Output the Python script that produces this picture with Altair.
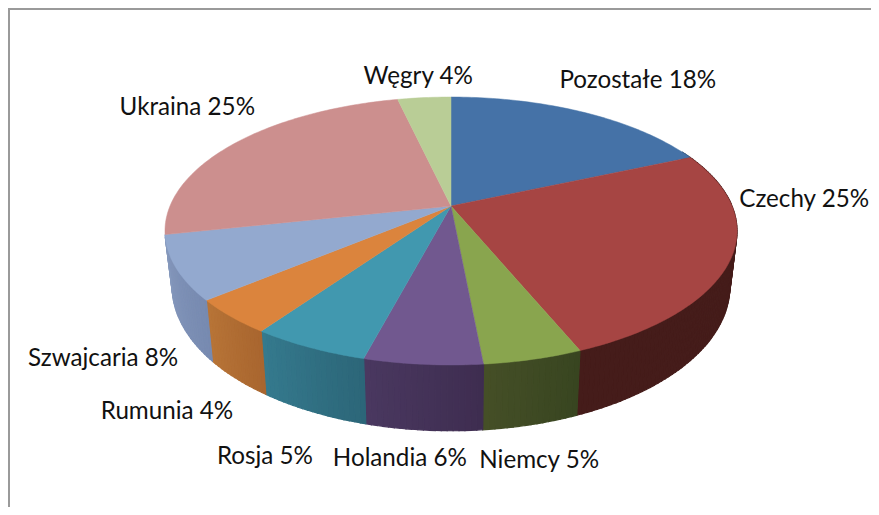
import math
import altair as alt

# values (percent of the whole, clockwise from 12 o'clock)
CATEGORIES = ["Pozostałe", "Czechy", "Niemcy", "Holandia", "Rosja", "Rumunia", "Szwajcaria", "Ukraina", "Węgry"]
VALUES = [18.4, 25.4, 4.7, 5.6, 5.6, 4.2, 7.7, 24.8, 3.6]
LABELS = ["Pozostałe 18%", "Czechy 25%", "Niemcy 5%", "Holandia 6%", "Rosja 5%",
          "Rumunia 4%", "Szwajcaria 8%", "Ukraina 25%", "Węgry 4%"]
TOP_COLORS = ["#4572a7", "#a64543", "#89a54e", "#71588f", "#4198af", "#db843d", "#93a9cf", "#cc8f8e", "#b9cd96"]
SIDE_START = ["#2a4463", "#451c1a", "#384520", "#3e2d50", "#2c6678", "#a8652f", "#778ab0", "#8a6160", "#7e8b66"]
SIDE_END = ["#2a4463", "#451c1a", "#454f27", "#4a3860", "#357a8e", "#b87537", "#8598bc", "#8a6160", "#7e8b66"]
LABEL_NUDGE = [(54, -31), (73, -58), (6, 102), (-23, 95), (-44, 110), (-64, 95), (-73, 91), (-48, -35), (-6, -21)]

W, H = 863, 499
CX, CY = 443.0, 198.0      # pivot of the pie in the plot area
RX, RY, P = 281.0, 129.3, 0.1866   # disc radii and perspective
DEPTH, SHRINK = 53.5, 0.975  # wall height and the narrowing of the lower rim


def top(a):
    u, v = math.sin(a), -math.cos(a)
    s = 1 / (1 - P * v)
    return CX + RX * u * s, CY + RY * v * s


def low(a):
    u, v = math.sin(a), -math.cos(a)
    s = 1 / (1 - P * v)
    return CX + SHRINK * RX * u * s, CY + RY * v * s + DEPTH * s


def mix(c0, c1, t):
    a = [int(c0[i:i + 2], 16) for i in (1, 3, 5)]
    b = [int(c1[i:i + 2], 16) for i in (1, 3, 5)]
    return "#" + "".join(f"{round(p + (q - p) * t):02x}" for p, q in zip(a, b))


def feature(coords, color, kind="Polygon"):
    geometry = {"type": kind, "coordinates": [coords] if kind == "Polygon" else coords}
    return {"type": "Feature", "geometry": geometry, "properties": {"col": color}}


total = sum(VALUES)
tops, walls, texts = [], [], []
start = 0.0
for name, val, lab, col, c0, c1, (dx, dy) in zip(CATEGORIES, VALUES, LABELS, TOP_COLORS, SIDE_START, SIDE_END, LABEL_NUDGE):
    a0 = start / total * 2 * math.pi
    a1 = (start + val) / total * 2 * math.pi
    n = max(2, int(math.degrees(a1 - a0)))
    angles = [a0 + (a1 - a0) * i / n for i in range(n + 1)]
    tops.append(feature([[CX, CY]] + [list(top(a)) for a in angles] + [[CX, CY]], col))
    for i in range(n):
        p, q = angles[i], angles[i + 1]
        mid = (p + q) / 2
        mu, mv = math.sin(mid), -math.cos(mid)
        if mv < -0.45 or (mu < 0 and mv < 0.22):
            continue
        ring = [list(top(p)), list(top(q)), list(low(q)), list(low(p)), list(top(p))]
        walls.append(feature(ring, mix(c0, c1, (i + 0.5) / n)))
    mx, my = top((a0 + a1) / 2)
    texts.append({"label": lab, "lon": mx + dx, "lat": my + dy})
    start += val

proj = dict(type="identity", scale=1, translate=[0, 0])
frame = [feature([[1, H], [1, 1], [W, 1]], "#9a9a9a", "LineString")]

frame_layer = alt.Chart(alt.Data(values=frame)).mark_geoshape(filled=False, strokeWidth=2).encode(
    stroke=alt.Stroke("properties.col:N", scale=None, legend=None)
).project(**proj)

wall_layer = alt.Chart(alt.Data(values=walls)).mark_geoshape(strokeWidth=1.2).encode(
    fill=alt.Fill("properties.col:N", scale=None, legend=None),
    stroke=alt.Stroke("properties.col:N", scale=None, legend=None),
).project(**proj)

top_layer = alt.Chart(alt.Data(values=tops)).mark_geoshape(strokeWidth=0.5).encode(
    fill=alt.Fill("properties.col:N", scale=None, legend=None),
    stroke=alt.Stroke("properties.col:N", scale=None, legend=None),
).project(**proj)

text_layer = alt.Chart(alt.Data(values=texts)).mark_text(
    font="Lato", fontSize=24.2, color="#111111", align="center", baseline="middle"
).encode(longitude="lon:Q", latitude="lat:Q", text="label:N").project(**proj)

chart = alt.layer(frame_layer, wall_layer, top_layer, text_layer).properties(
    width=W, height=H, padding=0, background="white"
).configure_view(stroke=None)

chart.save("out.html", embed_options={"renderer": "svg", "actions": False})
